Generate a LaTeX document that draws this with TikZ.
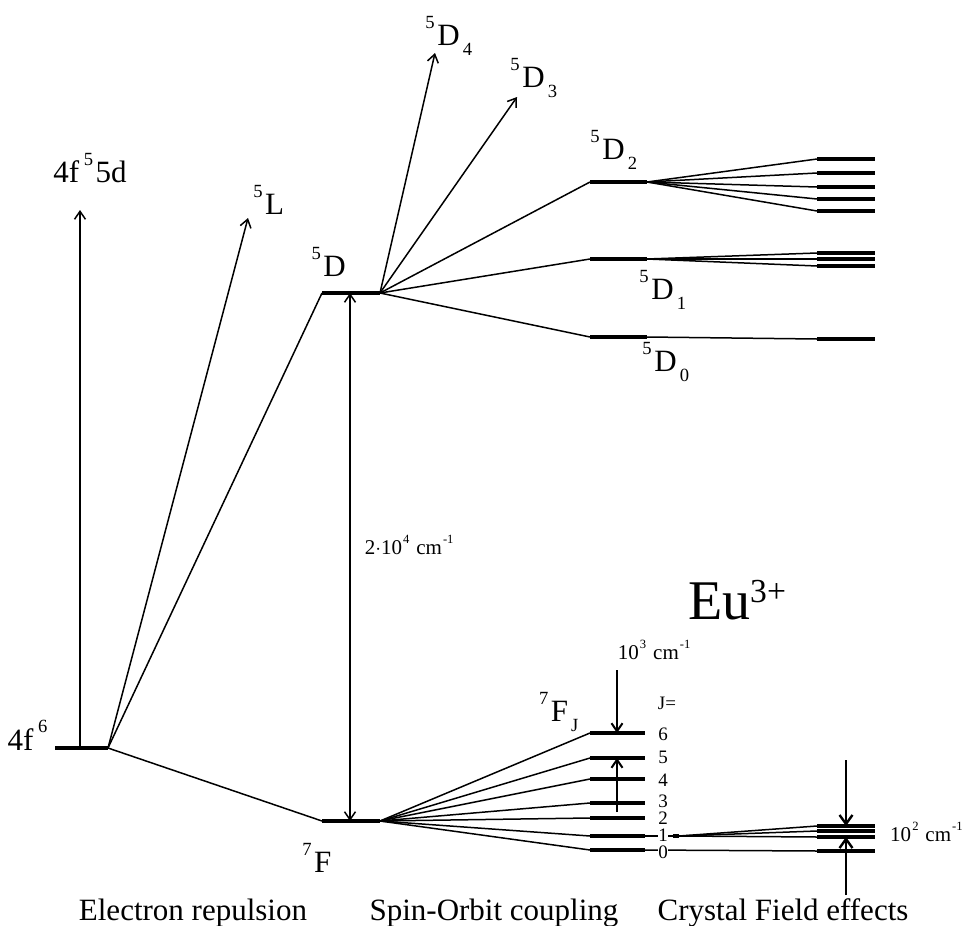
\documentclass[tikz,border=0pt]{standalone}
\usepackage{fontspec}
\setmainfont{Liberation Serif}
\usepackage{tikz}
\usetikzlibrary{arrows.meta}
\newcommand\lup[1]{\kern0.05em\raisebox{0.55em}{\scalebox{0.6}{#1}}\kern0.08em}
\newcommand\ldn[1]{\kern0.1em\raisebox{-0.32em}{\scalebox{0.6}{#1}}}
\tikzset{
  level/.style={line width=4pt},
  link/.style={line width=1.5pt},
  arr/.style={line width=1.5pt,-{Straight Barb[length=8pt,width=11pt]}},
  darr/.style={line width=1.5pt,{Straight Barb[length=8pt,width=11pt]}-{Straight Barb[length=8pt,width=11pt]}},
  barr/.style={line width=2.4pt,-{Straight Barb[length=9pt,width=13pt]}},
  big/.style={font=\fontsize{31}{34}\selectfont,inner sep=0pt},
  small/.style={font=\fontsize{21}{24}\selectfont,inner sep=0pt},
  jnum/.style={font=\fontsize{19}{20}\selectfont,inner sep=0pt},
}
\begin{document}
\begin{tikzpicture}[x=1pt,y=-1pt]
  \useasboundingbox (0,0) rectangle (969,926);
  \coordinate (f6l) at (55,748);  \coordinate (f6r) at (108,748);
  \coordinate (d5l) at (322,293); \coordinate (d5r) at (380,293);
  \coordinate (f7l) at (322,821); \coordinate (f7r) at (380,821);
  \coordinate (f6c) at (80,748);  \coordinate (d5c) at (350,293); \coordinate (f7c) at (350,821);
  \coordinate (tipfd) at (80,210);
  \coordinate (tipL) at (248,218);
  \coordinate (tipD4) at (435,53);
  \coordinate (tipD3) at (517,97);
  \draw[level] (f6l) -- (f6r);
  \draw[level] (d5l) -- (d5r);
  \draw[level] (f7l) -- (f7r);
  \draw[link] (f6r) -- (d5l);
  \draw[link] (f6r) -- (f7l);
  \draw[arr] (f6c) -- (tipfd);
  \draw[arr] (f6r) -- (tipL);
  \draw[arr] (d5r) -- (tipD4);
  \draw[arr] (d5r) -- (tipD3);
  \draw[darr] (d5c) -- (f7c);
  \node[big,anchor=base east] (lf6) at (50,750) {4f\kern0.1em\lup{6}};
  \node[big] (lfd) at (90,168) {4f\kern0.1em\lup{5}5d};
  \node[big] (lL) at (268,200) {\lup{5}L};
  \node[big] (lD) at (328,262) {\lup{5}D};
  \node[big] (lF) at (316,858) {\lup{7}F};
  \node[big] (lD4) at (448,36) {\lup{5}D\ldn{4}};
  \node[big] (lD3) at (533,78) {\lup{5}D\ldn{3}};
  \node[small] (lgap) at (410,545) {2$\cdot$10\lup{4}\ cm\lup{-1}};
  % 5D_J levels
  \foreach \n/\y in {2/182,1/259,0/337}{
    \coordinate (dl\n) at (590,\y); \coordinate (dr\n) at (647,\y);
    \draw[level] (dl\n) -- (dr\n);
    \draw[link] (d5r) -- (dl\n);
  }
  \node[big] (lD2) at (613,150) {\lup{5}D\ldn{2}};
  \node[big] (lD1) at (662,290) {\lup{5}D\ldn{1}};
  \node[big] (lD0) at (665,362) {\lup{5}D\ldn{0}};
  \foreach \k/\n/\y in {a/2/159,b/2/173,c/2/187,d/2/199,e/2/211,f/1/253,g/1/259,h/1/266,i/0/339}{
    \coordinate (cl\k) at (817,\y); \coordinate (cr\k) at (875,\y);
    \draw[level] (cl\k) -- (cr\k);
    \draw[link] (dr\n) -- (cl\k);
  }
  \node[font=\fontsize{56}{60}\selectfont,inner sep=0pt] (eu) at (737,600) {Eu\raisebox{0.3em}{\scalebox{0.6}{3+}}};
  % 7F_J levels
  \foreach \j/\y in {6/733,5/758,4/779,3/803,2/818,1/836,0/850}{
    \coordinate (jl\j) at (590,\y); \coordinate (jr\j) at (645,\y);
    \draw[level] (jl\j) -- (jr\j);
    \draw[link] (f7r) -- (jl\j);
  }
  \coordinate (j1s) at (673,836); \coordinate (j1e) at (679,836);
  \coordinate (cz) at (817,851); \coordinate (czr) at (875,851);
  \draw[link] (jr1) -- (j1s);
  \draw[level] (j1s) -- (j1e);
  \draw[link] (jr0) -- (cz);
  \draw[level] (cz) -- (czr);
  \foreach \k/\y in {p/826,q/831,r/837}{
    \coordinate (sl\k) at (817,\y); \coordinate (sr\k) at (875,\y);
    \draw[level] (sl\k) -- (sr\k);
    \draw[link] (j1e) -- (sl\k);
  }
  \foreach \j/\y/\bg in {6/734/none,5/757/none,4/780/none,3/801/none,2/818/none,1/835/white,0/852/white}{
    \node[jnum,fill=\bg] (n\j) at (663,\y) {\j};
  }
  \node[font=\fontsize{19}{22}\selectfont,inner sep=0pt] (leq) at (667,703) {J=};
  \node[big] (lFJ) at (558,712) {\lup{7}F\ldn{J}};
  \coordinate (a3t) at (617,670); \coordinate (a3b) at (617,733);
  \coordinate (a3u) at (617,812); \coordinate (a3v) at (617,758);
  \draw[arr,line width=2pt] (a3t) -- (a3b);
  \draw[arr,line width=2pt] (a3u) -- (a3v);
  \node[small] (l3) at (655,650) {10\lup{3}\ cm\lup{-1}};
  \coordinate (a2t) at (846,760); \coordinate (a2b) at (846,826);
  \coordinate (a2u) at (846,895); \coordinate (a2v) at (846,837);
  \draw[barr] (a2t) -- (a2b);
  \draw[barr] (a2u) -- (a2v);
  \node[small,anchor=west] (l2) at (890,832) {10\lup{2}\ cm\lup{-1}};
  \node[big,anchor=base] (t1) at (193,920) {Electron repulsion};
  \node[big,anchor=base] (t2) at (494,920) {Spin-Orbit coupling};
  \node[big,anchor=base] (t3) at (783,920) {Crystal Field effects};
\end{tikzpicture}
\end{document}
